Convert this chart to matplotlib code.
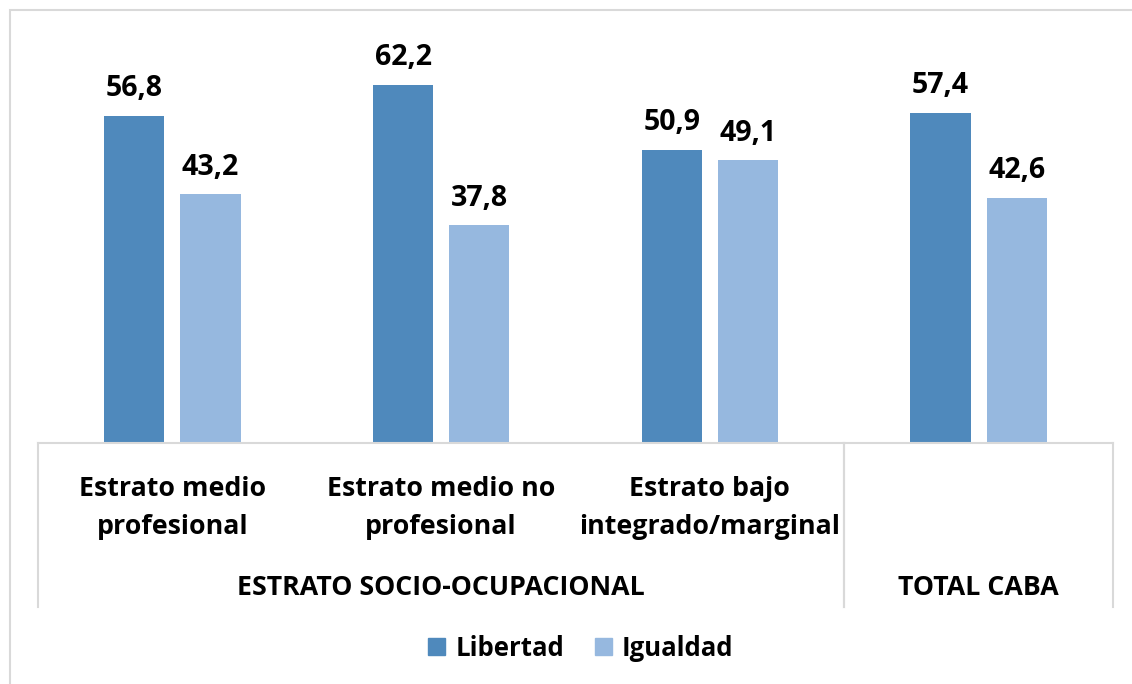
import matplotlib
matplotlib.use("Agg")
import matplotlib.pyplot as plt
from matplotlib.patches import Rectangle, Patch
from matplotlib.lines import Line2D
import numpy as np

categories = ["Estrato medio\nprofesional", "Estrato medio no\nprofesional",
              "Estrato bajo\nintegrado/marginal", ""]
groups = ["ESTRATO SOCIO-OCUPACIONAL", "TOTAL CABA"]
group_spans = [(0, 3), (3, 4)]
series_names = ["Libertad", "Igualdad"]
libertad = [56.8, 62.2, 50.9, 57.4]
igualdad = [43.2, 37.8, 49.1, 42.6]
colors = ["#4F89BC", "#96B8DF"]

W, H = 1132, 684
plt.rcParams['font.family'] = ['Open Sans', 'DejaVu Sans']
FS = 19.3
fig = plt.figure(figsize=(W / 100, H / 100), dpi=100)

def fx(px):
    return px / W

def fy(py):
    return 1 - py / H

# outer chart frame
fig.patches.append(Rectangle((fx(10), fy(700)), fx(1200), fy(10) - fy(700),
                             transform=fig.transFigure, fill=False,
                             edgecolor="#D9D9D9", lw=1.5))

ax_left, ax_right, ax_bottom, ax_top = 38, 1113, 443, 40
ax = fig.add_axes([fx(ax_left), fy(ax_bottom), fx(ax_right - ax_left), fy(ax_top) - fy(ax_bottom)])
n = len(categories)
x = np.arange(n)
bw = 0.2235
gap = 0.06
off = (bw + gap) / 2
b1 = ax.bar(x - off, libertad, bw, color=colors[0], label=series_names[0])
b2 = ax.bar(x + off, igualdad, bw, color=colors[1], label=series_names[1])
ax.set_xlim(-0.5, n - 0.5)
ax.set_ylim(0, 70)
for s in ax.spines.values():
    s.set_visible(False)
ax.set_xticks([])
ax.set_yticks([])
ax.patch.set_alpha(0)

for bars, vals in ((b1, libertad), (b2, igualdad)):
    for r, v in zip(bars, vals):
        ax.annotate(f"{v:.1f}".replace(".", ","), (r.get_x() + r.get_width() / 2, v),
                    xytext=(0, 27), textcoords="offset pixels", ha="center", va="center",
                    fontsize=20.5, fontweight="bold", color="black")

# category axis lines
lc = "#D9D9D9"
fig.add_artist(Line2D([fx(ax_left), fx(ax_right)], [fy(443), fy(443)], color=lc, lw=1.5,
                      transform=fig.transFigure))
cat_w = (ax_right - ax_left) / n
for gs, ge in group_spans:
    for edge in (gs, ge):
        xp = ax_left + edge * cat_w
        fig.add_artist(Line2D([fx(xp), fx(xp)], [fy(443), fy(607)], color=lc, lw=1.5,
                              transform=fig.transFigure))

for i, c in enumerate(categories):
    if c:
        xc = ax_left + (i + 0.5) * cat_w
        for j, line in enumerate(c.split("\n")):
            fig.text(fx(xc), fy(489 + 38 * j), line, ha="center", va="center",
                     fontsize=FS, fontweight="bold")

for (gs, ge), g in zip(group_spans, groups):
    xc = ax_left + (gs + ge) / 2 * cat_w
    fig.text(fx(xc), fy(588), g, ha="center", va="center", fontsize=FS, fontweight="bold")

handles = [Patch(color=colors[0]), Patch(color=colors[1])]
fig.legend(handles, series_names, loc="center", bbox_to_anchor=(fx(581), fy(648)), ncol=2,
           frameon=False, prop={"weight": "bold", "size": 18.5}, handlelength=0.65,
           handleheight=0.65, handletextpad=0.4, columnspacing=1.2)

fig.savefig("out.png", dpi=100)
